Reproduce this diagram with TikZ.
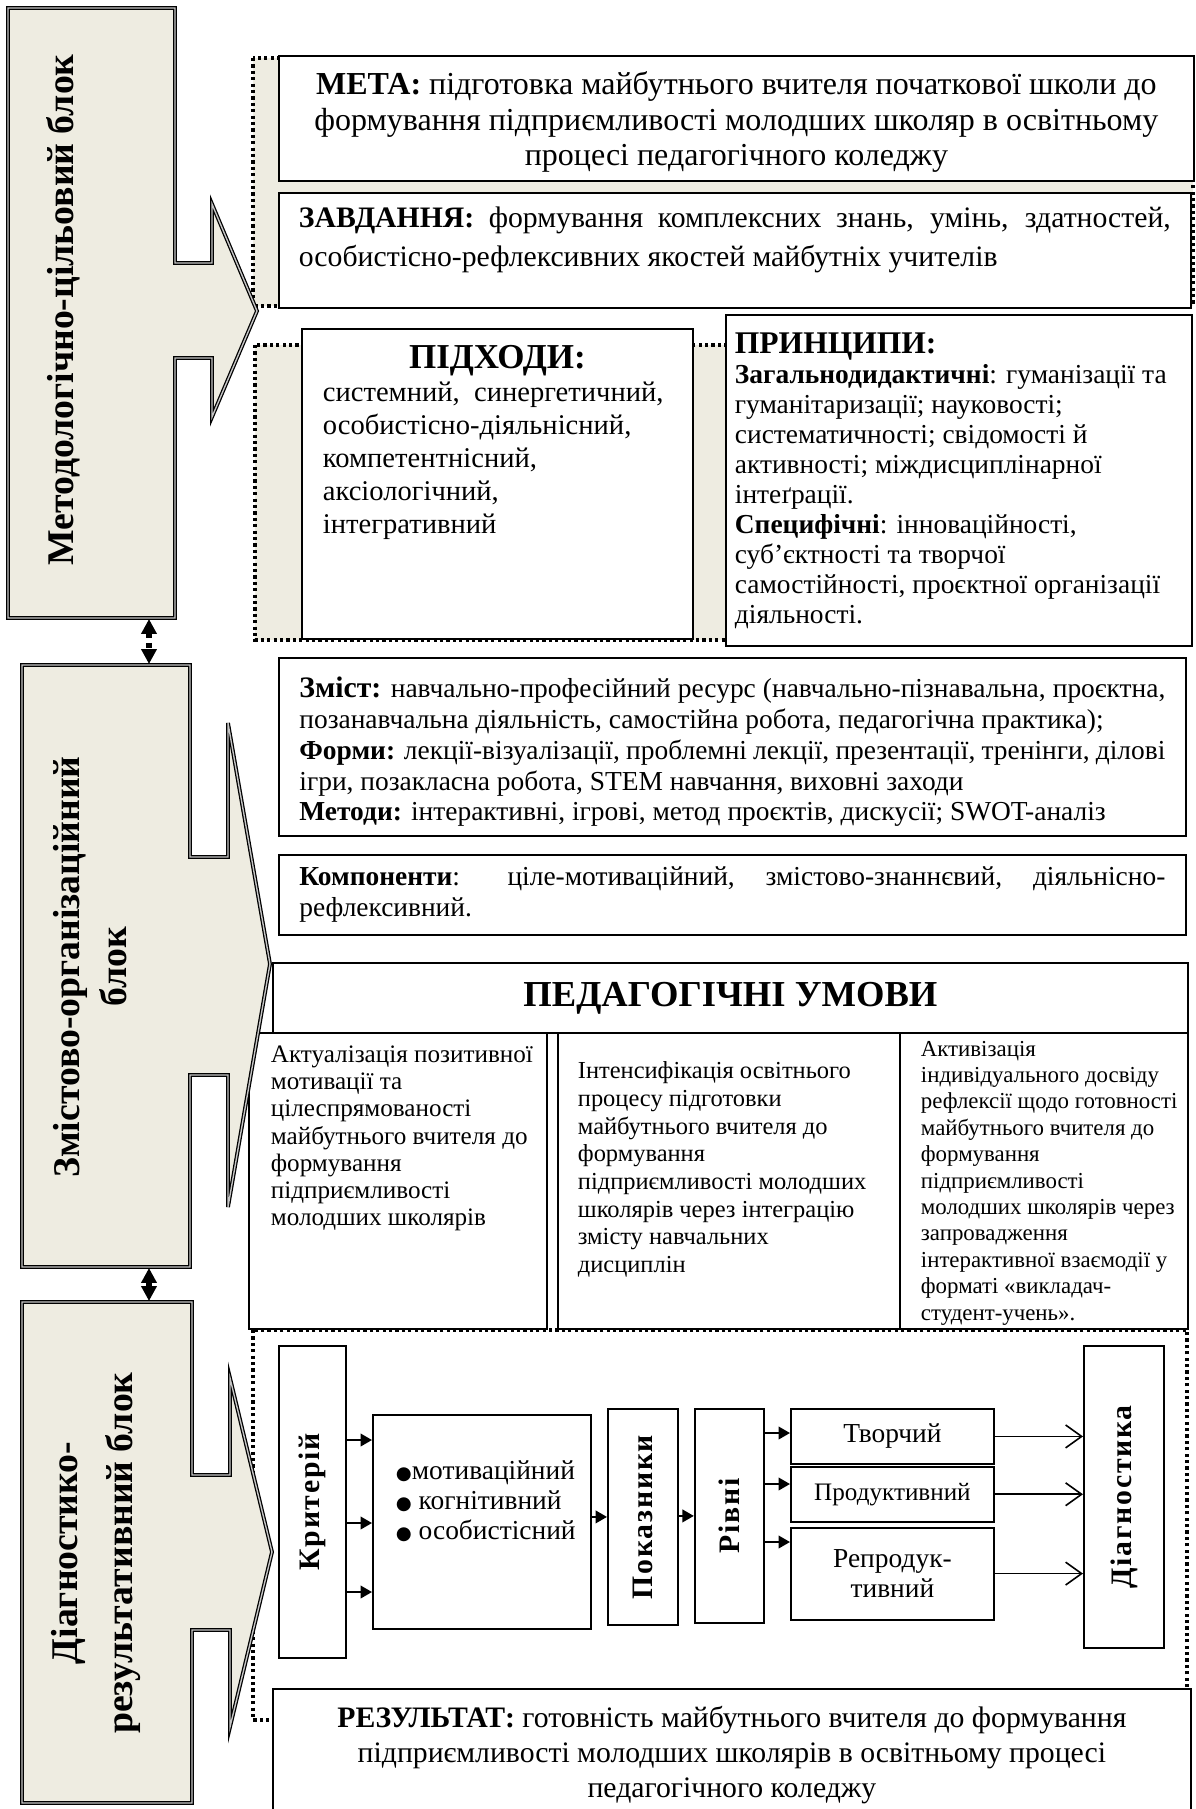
\documentclass[tikz,border=0pt]{standalone}
\usepackage{fontspec}
\usepackage{graphicx}
\setmainfont{Liberation Serif}
\newfontfamily\spacedfont[LetterSpace=6]{Liberation Serif}
\newfontfamily\bulletfont{DejaVu Sans}
\usetikzlibrary{arrows.meta,calc,positioning}

\newlength\pxu
\setlength\pxu{0.4375pt}
\definecolor{blkfill}{HTML}{EEECE1}
\hyphenpenalty=10000
\exhyphenpenalty=10000

\begin{document}
\begin{tikzpicture}[
  x=\pxu, y=-\pxu,
  tbox/.style    ={draw,line width=0.8pt,fill=white,anchor=north west,inner sep=0pt},
  dotbox/.style  ={draw,line width=1.4pt,dash pattern=on 1.4pt off 1.4pt},
  blk/.style     ={draw,line width=0.55pt,double=gray!45,double distance=0.6pt,
                   fill=blkfill},
  blklabel/.style={rotate=90,align=center,
                   font=\fontsize{16.5}{20.6}\selectfont\bfseries},
  vtext/.style   ={font=\spacedfont\fontsize{13}{15}\selectfont\bfseries},
  farrow/.style  ={-{Triangle[length=5pt,width=5.5pt]},line width=0.9pt},
  oarrow/.style  ={-{Straight Barb[length=7pt,width=10pt]},line width=0.7pt},
  dblarrow/.style={{Triangle[length=6.5pt,width=6.5pt]}-{Triangle[length=6.5pt,width=6.5pt]},
                   line width=2.2pt,dash pattern=on 2.2pt off 2.2pt},
]

\useasboundingbox (0,0) rectangle (1195,1809);
\clip (0,0) rectangle (1195,1809);

%% ===== Dotted containers =====================================================
\draw[dotbox,fill=blkfill] (253,58) rectangle (1193,306);
\draw[dotbox,fill=blkfill] (255,345) rectangle (1185,640);

%% ===== Goal and tasks ========================================================
\node[tbox,inner xsep=12\pxu,inner ysep=16\pxu] (meta) at (278,55)
  {\parbox[c][93\pxu][t]{891\pxu}{\centering\fontsize{14}{15.5}\selectfont
   \textbf{МЕТА:} підготовка майбутнього вчителя початкової школи до\\
   формування підприємливості молодших школяр в освітньому\\
   процесі педагогічного коледжу}};
\node[tbox,below=10\pxu of meta.south west,anchor=north west,
      inner xsep=20\pxu,inner ysep=14\pxu] (zavd)
  {\parbox[c][87\pxu][t]{872\pxu}{\raggedright\fontsize{13}{17}\selectfont
   \makebox[\linewidth][s]{\textbf{ЗАВДАННЯ:} формування комплексних знань, умінь, здатностей,}\\
   особистісно-рефлексивних якостей майбутніх учителів}};

%% ===== Approaches and principles =============================================
\node[tbox,inner ysep=16\pxu] (pidkh) at (301,328)
  {\parbox[c][278\pxu][t]{391\pxu}{\centering\fontsize{15.3}{18}\selectfont\bfseries
   ПІДХОДИ:\par
   \raggedright\leftskip=21\pxu\fontsize{12.5}{14.5}\selectfont\mdseries
   системний,\ \ синергетичний,\\
   особистісно-діяльнісний,\\
   компетентнісний,\\
   аксіологічний,\\
   інтегративний}};
\node[tbox,inner ysep=18\pxu] (pryn) at (725,314)
  {\parbox[c][295\pxu][t]{466\pxu}{\raggedright\leftskip=9\pxu
   \fontsize{13.8}{16}\selectfont\bfseries ПРИНЦИПИ:\par
   \fontsize{12}{13.1}\selectfont\mdseries
   \textbf{Загальнодидактичні}: гуманізації та\\
   гуманітаризації; науковості;\\
   систематичності; свідомості й\\
   активності; міждисциплінарної\\
   інтеґрації.\\
   \textbf{Специфічні}: інноваційності,\\
   суб’єктності та творчої\\
   самостійності, проєктної організації\\
   діяльності.}};

%% ===== Content, forms, methods ===============================================
\node[tbox,inner xsep=20.5\pxu,inner ysep=19\pxu] (zmist) at (278,657)
  {\parbox[c][140\pxu][t]{866\pxu}{\raggedright\fontsize{12}{13.5}\selectfont
   \makebox[\linewidth][s]{{\fontsize{13}{13.5}\selectfont\textbf{Зміст:}} навчально-професійний ресурс (навчально-пізнавальна, проєктна,}\\
   позанавчальна діяльність, самостійна робота, педагогічна практика);\\
   \makebox[\linewidth][s]{\textbf{Форми:} лекції-візуалізації, проблемні лекції, презентації, тренінги, ділові}\\
   ігри, позакласна робота, STEM навчання, виховні заходи\\
   \textbf{Методи:} інтерактивні, ігрові, метод проєктів, дискусії; SWOT-аналіз}};
\node[tbox,minimum width=907\pxu,minimum height=80\pxu,
      below=17\pxu of zmist.south west,anchor=north west] (komp)
  {\parbox{866\pxu}{\raggedright\fontsize{12}{13.8}\selectfont
   \makebox[\linewidth][s]{\textbf{Компоненти}: ціле-мотиваційний, змістово-знаннєвий, діяльнісно-}\\
   рефлексивний.}};

%% ===== Pedagogical conditions ================================================
\node[tbox,minimum width=915\pxu,minimum height=70\pxu,
      font=\fontsize{16}{18}\selectfont\bfseries] (umovy) at (272,962)
  {ПЕДАГОГІЧНІ УМОВИ};
\node[tbox,inner ysep=13\pxu] (cond1) at (248,1032)
  {\parbox[c][270\pxu][t]{298\pxu}{\raggedright\leftskip=22\pxu
   \fontsize{11}{11.9}\selectfont
   Актуалізація позитивної\\ мотивації та\\ цілеспрямованості\\
   майбутнього вчителя до\\ формування\\ підприємливості\\
   молодших школярів}};
\node[tbox,inner ysep=29\pxu] (cond2) at (557,1032)
  {\parbox[c][238\pxu][t]{342\pxu}{\raggedright\leftskip=20\pxu
   \fontsize{10.7}{12.1}\selectfont
   Інтенсифікація освітнього\\ процесу підготовки\\ майбутнього вчителя до\\
   формування\\ підприємливості молодших\\ школярів через інтеграцію\\
   змісту навчальних\\ дисциплін}};
\node[tbox,inner ysep=8\pxu] (cond3) at (899,1032)
  {\parbox[c][280\pxu][t]{288\pxu}{\raggedright\leftskip=21\pxu
   \fontsize{10}{11.55}\selectfont
   Активізація\\ індивідуального досвіду\\ рефлексії щодо готовності\\
   майбутнього вчителя до\\ формування\\ підприємливості\\
   молодших школярів через\\ запровадження\\ інтерактивної взаємодії у\\
   форматі «викладач-\\ студент-учень».}};

%% ===== Diagnostic part =======================================================
\draw[dotbox] (253,1330) rectangle (1187,1720);

\node[tbox,vtext,minimum width=67\pxu,minimum height=312\pxu] (krit) at (278,1345)
  {\rotatebox{90}{Критерій}};
\node[tbox,inner ysep=46\pxu] (list) at (372,1414)
  {\parbox[c][122\pxu][t]{218\pxu}{\raggedright\leftskip=23\pxu
   \fontsize{12}{13.1}\selectfont
   {\bulletfont\fontsize{8}{10}\selectfont ●}мотиваційний\\
   {\bulletfont\fontsize{8}{10}\selectfont ●} когнітивний\\
   {\bulletfont\fontsize{8}{10}\selectfont ●} особистісний}};
\node[tbox,vtext,minimum width=70\pxu,minimum height=216\pxu] (pokaz) at (607,1408)
  {\rotatebox{90}{Показники}};
\node[tbox,vtext,minimum width=69\pxu,minimum height=214\pxu,
      right=15\pxu of pokaz.north east,anchor=north west] (rivni)
  {\rotatebox{90}{Рівні}};

\node[tbox,minimum width=203\pxu,minimum height=55\pxu,
      font=\fontsize{12}{14}\selectfont] (tvor) at (790,1408) {Творчий};
\node[tbox,minimum width=203\pxu,minimum height=55\pxu,
      font=\fontsize{11}{13}\selectfont,
      below=1\pxu of tvor.south west,anchor=north west] (prod) {Продуктивний};
\node[tbox,minimum width=203\pxu,minimum height=92\pxu,align=center,
      font=\fontsize{12}{13.1}\selectfont,
      below=4\pxu of prod.south west,anchor=north west] (repr) {Репродук-\\тивний};

\node[tbox,vtext,minimum width=80\pxu,minimum height=302\pxu] (diag) at (1083,1345)
  {\rotatebox{90}{Діагностика}};

\node[tbox,minimum width=918\pxu,minimum height=132\pxu] (rez) at (272,1688)
  {\parbox{880\pxu}{\centering\fontsize{13}{15.3}\selectfont
   \textbf{РЕЗУЛЬТАТ:} готовність майбутнього вчителя до формування\\
   підприємливості молодших школярів в освітньому процесі\\
   педагогічного коледжу}};

%% ===== Block arrows on the left ==============================================
\draw[blk] (8,8) -- (175,8) -- (175,263) -- (212,263) -- (212,204) -- (257,311)
  -- (212,417) -- (212,358) -- (175,358) -- (175,618) -- (8,618) -- cycle;
\draw[blk] (22,665) -- (190,665) -- (190,857) -- (228,857) -- (228,723) -- (270,964)
  -- (228,1207) -- (228,1075) -- (190,1075) -- (190,1267) -- (22,1267) -- cycle;
\draw[blk] (22,1302) -- (192,1302) -- (192,1475) -- (230,1475) -- (230,1378) -- (272,1552)
  -- (230,1727) -- (230,1630) -- (192,1630) -- (192,1803) -- (22,1803) -- cycle;

\node[blklabel] (lab1) at (63,310) {Методологічно-цільовий блок};
\node[blklabel] (lab2) at (90,967) {Змістово-організаційний\\блок};
\node[blklabel,font=\fontsize{16.5}{24}\selectfont\bfseries] (lab3) at (96,1553)
  {Діагностико-\\результативний блок};

%% ===== Links between blocks ==================================================
\coordinate (b1s) at (149,619);
\coordinate (b2n) at (149,664);
\coordinate (b2s) at (149,1268);
\coordinate (b3n) at (149,1301);
\draw[dblarrow] (b1s) -- (b2n);
\draw[dblarrow] (b2s) -- (b3n);

%% ===== Arrows of the diagnostic chain ========================================
\coordinate (ya) at (0,1440);
\coordinate (yb) at (0,1523);
\coordinate (yc) at (0,1592);
\coordinate (yd) at (0,1433);
\coordinate (ye) at (0,1484);
\coordinate (yf) at (0,1542);

\foreach \y in {ya,yb,yc}
  \draw[farrow] (krit.east |- \y) -- (list.west |- \y);
\draw[farrow] (list.east |- pokaz.west) -- (pokaz.west);
\draw[farrow] (pokaz.east |- rivni.west) -- (rivni.west);
\foreach \y/\lvl in {yd/tvor,ye/prod,yf/repr}
  \draw[farrow] (rivni.east |- \y) -- (\lvl.west |- \y);
\foreach \lvl in {tvor,prod,repr}
  \draw[oarrow] (\lvl.east) -- (diag.west |- \lvl.east);

\end{tikzpicture}
\end{document}
